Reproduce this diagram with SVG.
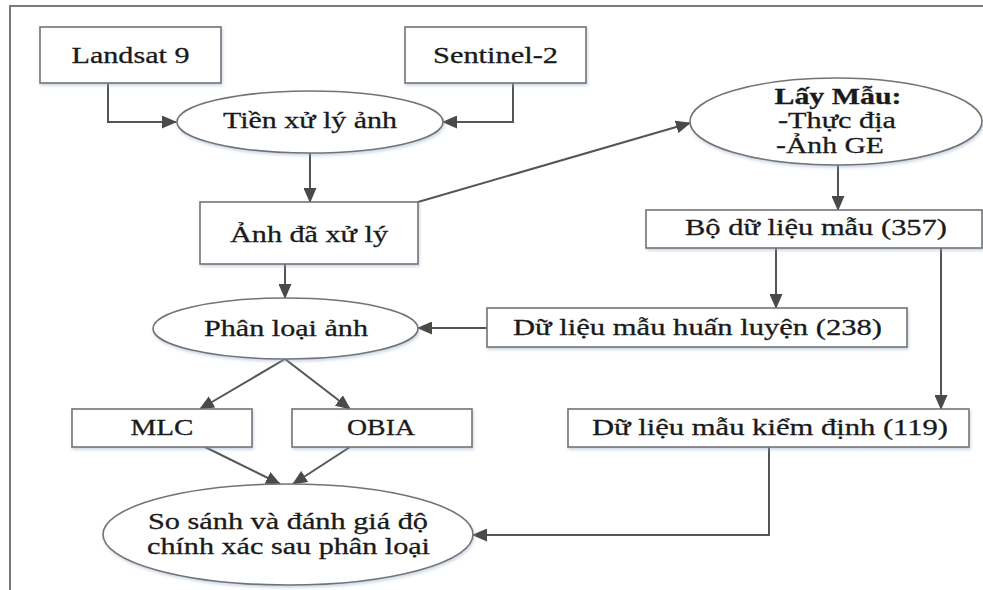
<svg xmlns="http://www.w3.org/2000/svg" width="983" height="590" viewBox="0 0 983 590">
<defs>
<filter id="sh" x="-10%" y="-20%" width="120%" height="150%">
<feDropShadow dx="1" dy="2" stdDeviation="1.5" flood-color="#8fa8c8" flood-opacity="0.45"/>
</filter>
<marker id="ah" markerUnits="userSpaceOnUse" markerWidth="15" markerHeight="13" refX="14" refY="6.5" orient="auto">
<path d="M0,0 L15,6.5 L0,13 Z" fill="#4a4a4a"/>
</marker>
<style>
.n{fill:#fff;stroke:#737373;stroke-width:1.6;filter:url(#sh)}
.t{font-family:"Liberation Serif","Times New Roman",serif;font-size:24px;fill:#1a1a1a;stroke:#1a1a1a;stroke-width:0.3;text-anchor:middle}
.b{font-weight:bold}
.c{fill:none;stroke:#555;stroke-width:2;marker-end:url(#ah)}
.f{fill:none;stroke:#7a7a7a;stroke-width:2}
</style>
</defs>
<rect width="983" height="590" fill="#fff"/>
<path class="f" d="M10,590 V6 H983"/>
<g id="connectors">
<path class="c" d="M108,83 V122 H176"/>
<path class="c" d="M513,83 V122 H443"/>
<path class="c" d="M310,153 V202"/>
<path class="c" d="M418,202 L690,123"/>
<path class="c" d="M838,165 V210"/>
<path class="c" d="M776,248 V308"/>
<path class="c" d="M941,248 V409"/>
<path class="c" d="M487,328 H418"/>
<path class="c" d="M285,264 V298"/>
<path class="c" d="M285,359 L200,409"/>
<path class="c" d="M285,359 L350,409"/>
<path class="c" d="M205,447 L280,484"/>
<path class="c" d="M350,447 L293,484"/>
<path class="c" d="M769,447 V535 H473"/>
</g>
<g id="landsat">
<rect class="n" x="40" y="27" width="181" height="56"/>
<text class="t" x="130.5" y="63" textLength="118" lengthAdjust="spacingAndGlyphs">Landsat 9</text>
</g>
<g id="sentinel">
<rect class="n" x="405" y="27" width="181" height="56"/>
<text class="t" x="495.5" y="63" textLength="125" lengthAdjust="spacingAndGlyphs">Sentinel-2</text>
</g>
<g id="tienxuly">
<ellipse class="n" cx="310" cy="122" rx="133" ry="31"/>
<text class="t" x="310" y="128" textLength="174" lengthAdjust="spacingAndGlyphs">Tiền xử lý ảnh</text>
</g>
<g id="laymau">
<ellipse class="n" cx="836" cy="121.5" rx="146" ry="43.5"/>
<text class="t b" x="838" y="104" textLength="127" lengthAdjust="spacingAndGlyphs">Lấy Mẫu:</text>
<text class="t" x="837" y="128" textLength="118" lengthAdjust="spacingAndGlyphs">-Thực địa</text>
<text class="t" x="830" y="153" textLength="108" lengthAdjust="spacingAndGlyphs">-Ảnh GE</text>
</g>
<g id="anhdaxuly">
<rect class="n" x="200" y="202" width="218" height="62"/>
<text class="t" x="309" y="242" textLength="158" lengthAdjust="spacingAndGlyphs">Ảnh đã xử lý</text>
</g>
<g id="bodulieu">
<rect class="n" x="646" y="210" width="336" height="38"/>
<text class="t" x="816" y="235" textLength="262" lengthAdjust="spacingAndGlyphs">Bộ dữ liệu mẫu (357)</text>
</g>
<g id="huanluyen">
<rect class="n" x="487" y="308" width="420" height="39"/>
<text class="t" x="697.5" y="335" textLength="369" lengthAdjust="spacingAndGlyphs">Dữ liệu mẫu huấn luyện (238)</text>
</g>
<g id="phanloai">
<ellipse class="n" cx="285.5" cy="328.5" rx="132.5" ry="30.5"/>
<text class="t" x="286" y="336" textLength="164" lengthAdjust="spacingAndGlyphs">Phân loại ảnh</text>
</g>
<g id="mlc">
<rect class="n" x="72" y="409" width="180" height="38"/>
<text class="t" x="162" y="435" textLength="63" lengthAdjust="spacingAndGlyphs">MLC</text>
</g>
<g id="obia">
<rect class="n" x="292" y="409" width="180" height="38"/>
<text class="t" x="381" y="435" textLength="68" lengthAdjust="spacingAndGlyphs">OBIA</text>
</g>
<g id="kiemdinh">
<rect class="n" x="568" y="409" width="401" height="38"/>
<text class="t" x="770" y="435" textLength="356" lengthAdjust="spacingAndGlyphs">Dữ liệu mẫu kiểm định (119)</text>
</g>
<g id="sosanh">
<ellipse class="n" cx="288" cy="534.5" rx="185" ry="50.5"/>
<text class="t" x="288" y="529" textLength="280" lengthAdjust="spacingAndGlyphs">So sánh và đánh giá độ</text>
<text class="t" x="288.5" y="554" textLength="283" lengthAdjust="spacingAndGlyphs">chính xác sau phân loại</text>
</g>
</svg>
